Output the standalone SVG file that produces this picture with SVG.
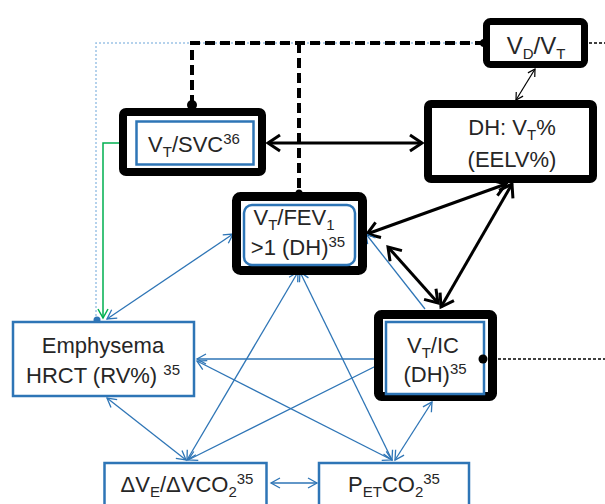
<svg xmlns="http://www.w3.org/2000/svg" width="605" height="504" viewBox="0 0 605 504">
<style>
text{font-family:"Liberation Sans",Arial,sans-serif;font-size:22px;fill:#262626;text-anchor:middle}
.sub,.sup{font-size:15px}
.blk{fill:none;stroke:#000;rx:4}
.blue{fill:#fff;stroke:#2e75b6;stroke-width:2.5}
.bl{stroke:#2e75b6;stroke-width:1.3;fill:none}
.bk{stroke:#000;stroke-width:3;fill:none}
</style>
<defs>
<marker id="ab" markerUnits="userSpaceOnUse" orient="auto-start-reverse" style="overflow:visible"><path d="M-9,-5 L0,0 L-9,5" fill="none" stroke="#2e75b6" stroke-width="1.3"/></marker>
<marker id="ag" markerUnits="userSpaceOnUse" orient="auto-start-reverse" style="overflow:visible"><path d="M-9,-5 L0,0 L-9,5" fill="none" stroke="#00b050" stroke-width="1.5"/></marker>
<marker id="ak" markerUnits="userSpaceOnUse" orient="auto-start-reverse" style="overflow:visible"><path d="M-12,-8 L0,0 L-12,8" fill="none" stroke="#000" stroke-width="3"/></marker>
<marker id="at" markerUnits="userSpaceOnUse" orient="auto-start-reverse" style="overflow:visible"><path d="M-7,-4 L0,0 L-7,4" fill="none" stroke="#000" stroke-width="1.2"/></marker>
</defs>
<g id="connectors">
<path d="M96,320 V43 H484" fill="none" stroke="#9dc3e6" stroke-width="1.5" stroke-dasharray="2 2"/>
<path d="M192,105 V43 H484 M299,43 V193" fill="none" stroke="#000" stroke-width="4" stroke-dasharray="10 5"/>
<path d="M589,43 H605" fill="none" stroke="#000" stroke-width="1.5" stroke-dasharray="3 2"/>
<path d="M483,359 H605" fill="none" stroke="#000" stroke-width="1.5" stroke-dasharray="3 2"/>
<circle cx="192" cy="105" r="5"/>
<circle cx="299" cy="193" r="3.5"/>
<circle cx="484" cy="43" r="4"/>
<circle cx="483" cy="359" r="4.5"/>
<circle cx="97" cy="320" r="3.5" fill="#2e75b6"/>
<path d="M103,318 V143 H134" fill="none" stroke="#00b050" stroke-width="1.5" marker-start="url(#ag)" marker-end="url(#ag)"/>
<line class="bk" x1="268" y1="143" x2="422" y2="143" marker-start="url(#ak)" marker-end="url(#ak)"/>
<line class="bk" x1="506" y1="184" x2="367" y2="234" marker-start="url(#ak)" marker-end="url(#ak)"/>
<line class="bk" x1="512" y1="184" x2="441" y2="307" marker-start="url(#ak)" marker-end="url(#ak)"/>
<line class="bk" x1="388" y1="247" x2="438" y2="303" marker-start="url(#ak)" marker-end="url(#ak)"/>
<line x1="535" y1="69" x2="516" y2="100" stroke="#000" stroke-width="1.2" marker-start="url(#at)" marker-end="url(#at)"/>
<line class="bl" x1="107" y1="319" x2="233" y2="234" marker-start="url(#ab)" marker-end="url(#ab)"/>
<line class="bl" x1="298" y1="272" x2="187" y2="460" marker-start="url(#ab)" marker-end="url(#ab)"/>
<line class="bl" x1="300" y1="272" x2="392" y2="460" marker-start="url(#ab)" marker-end="url(#ab)"/>
<line class="bl" x1="384" y1="359" x2="197" y2="359" marker-end="url(#ab)"/>
<line class="bl" x1="197" y1="361" x2="392" y2="460" marker-start="url(#ab)" marker-end="url(#ab)"/>
<line class="bl" x1="107" y1="398" x2="186" y2="460" marker-start="url(#ab)" marker-end="url(#ab)"/>
<line class="bl" x1="376" y1="366" x2="188" y2="460" marker-end="url(#ab)"/>
<line class="bl" x1="432" y1="402" x2="395" y2="460" marker-start="url(#ab)" marker-end="url(#ab)"/>
<line class="bl" x1="425" y1="309" x2="366" y2="234" marker-end="url(#ab)"/>
<line class="bl" x1="271" y1="483" x2="317" y2="483" marker-start="url(#ab)" marker-end="url(#ab)"/>
</g>
<g id="vdvt">
<rect x="486.5" y="21.5" width="98" height="43" rx="4" fill="#fff" stroke="#000" stroke-width="7"/>
<text x="536" y="54" style="font-size:24px">V<tspan class="sub" dy="5">D</tspan><tspan dy="-5">/V</tspan><tspan class="sub" dy="5">T</tspan></text>
</g>
<g id="dh">
<rect x="428" y="104" width="165" height="75" rx="3" fill="#fff" stroke="#000" stroke-width="8"/>
<text x="512" y="135">DH: V<tspan class="sub" dy="5">T</tspan><tspan dy="-5">%</tspan></text>
<text x="512" y="167">(EELV%)</text>
</g>
<g id="svc">
<rect x="123" y="112" width="139" height="60" rx="3" fill="#fff" stroke="#000" stroke-width="8"/>
<rect class="blue" x="136.5" y="121.5" width="117" height="43"/>
<text x="194" y="152">V<tspan class="sub" dy="5">T</tspan><tspan dy="-5">/SVC</tspan><tspan class="sup" dy="-8">36</tspan></text>
</g>
<g id="fev1">
<rect x="236.5" y="196.5" width="126" height="74" rx="4" fill="#fff" stroke="#000" stroke-width="9"/>
<rect class="blue" x="244" y="205" width="111" height="60" rx="8"/>
<text x="294" y="225">V<tspan class="sub" dy="5">T</tspan><tspan dy="-5">/FEV</tspan><tspan class="sub" dy="5">1</tspan></text>
<text x="298" y="255">&gt;1 (DH)<tspan class="sup" dy="-8">35</tspan></text>
</g>
<g id="ic">
<rect x="378.5" y="314.5" width="114" height="82" rx="3" fill="#fff" stroke="#000" stroke-width="9"/>
<rect class="blue" x="386" y="322" width="98" height="72"/>
<circle cx="483" cy="359" r="4.5"/>
<text x="433" y="353">V<tspan class="sub" dy="5">T</tspan><tspan dy="-5">/IC</tspan></text>
<text x="435" y="382">(DH)<tspan class="sup" dy="-8">35</tspan></text>
</g>
<g id="emphysema">
<rect class="blue" x="13" y="322" width="181" height="74"/>
<text x="103" y="353">Emphysema</text>
<text x="103" y="383">HRCT (RV%) <tspan class="sup" dy="-8">35</tspan></text>
</g>
<g id="dve">
<rect class="blue" x="104.5" y="463" width="162" height="50"/>
<text x="187" y="492">ΔV<tspan class="sub" dy="5">E</tspan><tspan dy="-5">/ΔVCO</tspan><tspan class="sub" dy="5">2</tspan><tspan class="sup" dy="-13">35</tspan></text>
</g>
<g id="petco2">
<rect class="blue" x="319" y="463" width="150" height="50"/>
<text x="394" y="492">P<tspan class="sub" dy="5">ET</tspan><tspan dy="-5">CO</tspan><tspan class="sub" dy="5">2</tspan><tspan class="sup" dy="-13">35</tspan></text>
</g>
</svg>
